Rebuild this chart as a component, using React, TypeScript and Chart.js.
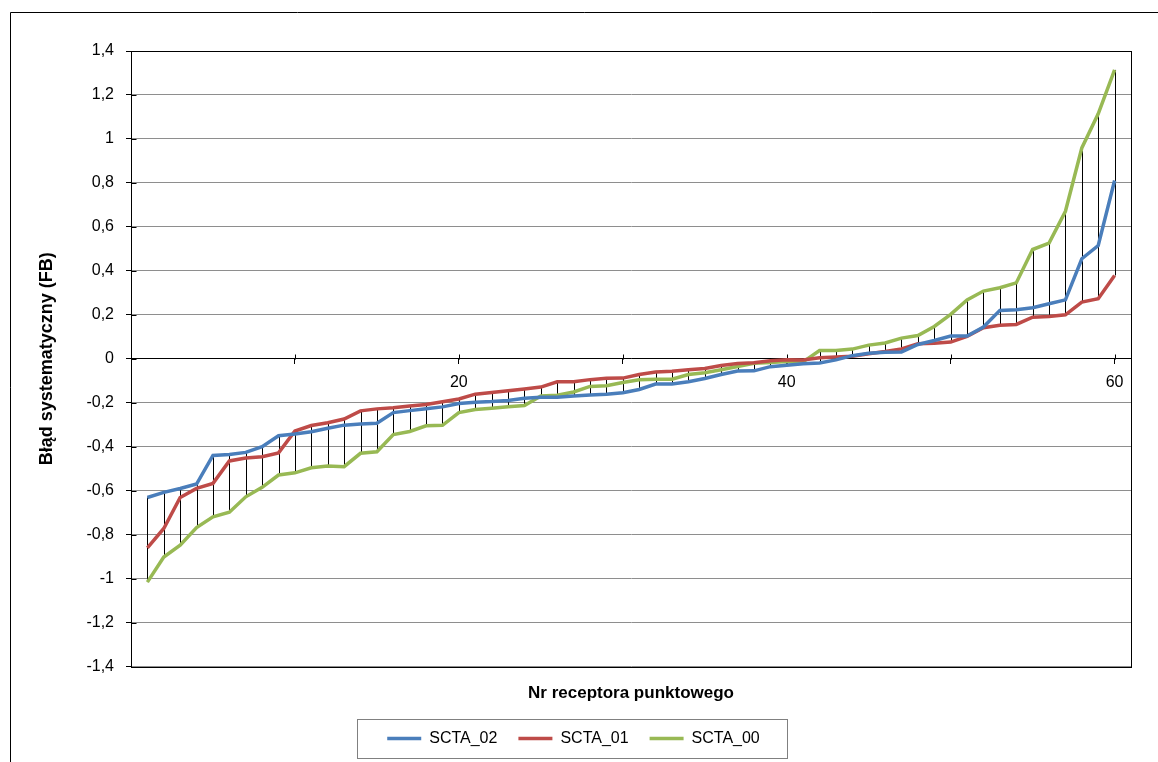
import { useEffect, useRef } from 'react';
import { Chart, registerables } from 'chart.js';

Chart.register(...registerables);

// Receptor numbers (x) and the systematic error (FB) of each model run
const receptors = [
  1, 2, 3, 4, 5, 6, 7, 8, 9, 10, 11, 12, 13, 14, 15, 16, 17, 18, 19, 20,
  21, 22, 23, 24, 25, 26, 27, 28, 29, 30, 31, 32, 33, 34, 35, 36, 37, 38, 39, 40,
  41, 42, 43, 44, 45, 46, 47, 48, 49, 50, 51, 52, 53, 54, 55, 56, 57, 58, 59, 60,
];

const scta02 = [
  -0.631, -0.608, -0.59, -0.57, -0.44, -0.436, -0.426, -0.4, -0.35, -0.342,
  -0.332, -0.316, -0.302, -0.297, -0.293, -0.245, -0.236, -0.227, -0.219, -0.204,
  -0.198, -0.195, -0.19, -0.18, -0.175, -0.175, -0.17, -0.165, -0.162, -0.155,
  -0.14, -0.115, -0.115, -0.105, -0.09, -0.072, -0.056, -0.055, -0.036, -0.03,
  -0.023, -0.019, -0.005, 0.014, 0.025, 0.03, 0.031, 0.065, 0.083, 0.103,
  0.103, 0.144, 0.22, 0.223, 0.232, 0.25, 0.268, 0.455, 0.515, 0.811,
];

const scta01 = [
  -0.86, -0.772, -0.631, -0.59, -0.567, -0.465, -0.452, -0.446, -0.428, -0.329,
  -0.304, -0.291, -0.274, -0.237, -0.228, -0.223, -0.215, -0.208, -0.196, -0.183,
  -0.161, -0.154, -0.146, -0.138, -0.129, -0.105, -0.105, -0.095, -0.089, -0.088,
  -0.072, -0.06, -0.057, -0.05, -0.044, -0.031, -0.022, -0.018, -0.009, -0.005,
  -0.006, 0.005, 0.008, 0.011, 0.023, 0.033, 0.045, 0.068, 0.071, 0.076,
  0.102, 0.141, 0.152, 0.156, 0.189, 0.192, 0.2, 0.258, 0.273, 0.379,
];

const scta00 = [
  -1.016, -0.902, -0.848, -0.768, -0.719, -0.698, -0.628, -0.585, -0.529, -0.519,
  -0.496, -0.488, -0.491, -0.43, -0.423, -0.345, -0.331, -0.305, -0.303, -0.245,
  -0.231, -0.225, -0.218, -0.213, -0.169, -0.166, -0.151, -0.126, -0.123, -0.108,
  -0.096, -0.093, -0.093, -0.072, -0.064, -0.05, -0.035, -0.021, -0.017, -0.012,
  -0.014, 0.037, 0.037, 0.044, 0.062, 0.072, 0.094, 0.106, 0.147, 0.202,
  0.268, 0.308, 0.323, 0.345, 0.497, 0.526, 0.671, 0.959, 1.114, 1.314,
];

const seriesNames = ['SCTA_02', 'SCTA_01', 'SCTA_00'];
const seriesValues = [scta02, scta01, scta00];
const seriesColors = ['#4A7EBB', '#BE4B48', '#98B954'];

const yTicks = [-1.4, -1.2, -1, -0.8, -0.6, -0.4, -0.2, 0, 0.2, 0.4, 0.6, 0.8, 1, 1.2, 1.4];
const xTicks = [0, 10, 20, 30, 40, 50, 60];
const xLabelled = [20, 40, 60];

const yTitle = 'Błąd systematyczny (FB)';
const xTitle = 'Nr receptora punktowego';

const FONT = '"Liberation Sans", Arial, sans-serif';

const formatComma = (v: number) => String(Math.round(v * 10) / 10).replace('.', ',');

// Frame, plot border, high-low lines, crossing tick stubs and legend box
const decorations = {
  id: 'decorations',
  beforeDraw(chart: any) {
    const { ctx, width, height } = chart;
    ctx.save();
    ctx.fillStyle = '#ffffff';
    ctx.fillRect(0, 0, width, height);
    ctx.strokeStyle = '#000000';
    ctx.lineWidth = 1;
    ctx.beginPath();
    ctx.moveTo(10.5, height);
    ctx.lineTo(10.5, 12.5);
    ctx.lineTo(width, 12.5);
    ctx.stroke();
    ctx.restore();
  },
  beforeDatasetsDraw(chart: any) {
    const { ctx, chartArea } = chart;
    const xs = chart.scales.x;
    const ys = chart.scales.y;
    ctx.save();
    // high-low lines between the series at every receptor
    ctx.strokeStyle = '#000000';
    ctx.lineWidth = 1;
    receptors.forEach((r, i) => {
      const vals = seriesValues.map((s) => s[i]);
      const px = Math.round(xs.getPixelForValue(r)) + 0.5;
      ctx.beginPath();
      ctx.moveTo(px, ys.getPixelForValue(Math.max(...vals)));
      ctx.lineTo(px, ys.getPixelForValue(Math.min(...vals)));
      ctx.stroke();
    });
    // plot area border
    const l = Math.round(chartArea.left) + 0.5;
    const t = Math.round(chartArea.top) + 0.5;
    const r = Math.round(chartArea.right) + 0.5;
    const b = Math.round(chartArea.bottom) + 0.5;
    ctx.strokeRect(l, t, r - l, b - t);
    // inner halves of crossing tick marks
    const y0 = Math.round(ys.getPixelForValue(0)) + 0.5;
    xTicks.forEach((v) => {
      const px = Math.round(xs.getPixelForValue(v)) + 0.5;
      ctx.beginPath();
      ctx.moveTo(px, y0 - 5);
      ctx.lineTo(px, y0);
      ctx.stroke();
    });
    yTicks.forEach((v) => {
      const py = Math.round(ys.getPixelForValue(v)) + 0.5;
      ctx.beginPath();
      ctx.moveTo(l, py);
      ctx.lineTo(l + 5, py);
      ctx.stroke();
    });
    ctx.restore();
  },
  afterDraw(chart: any) {
    const legend = chart.legend;
    if (!legend || !legend.legendHitBoxes || !legend.legendHitBoxes.length) return;
    const boxes = legend.legendHitBoxes;
    const first = boxes[0];
    const last = boxes[boxes.length - 1];
    const left = Math.round(first.left - 30) + 0.5;
    const right = Math.round(last.left + last.width + 27) + 0.5;
    const top = Math.round(first.top - 12) + 0.5;
    const bottom = Math.round(first.top + first.height + 11) + 0.5;
    const { ctx } = chart;
    ctx.save();
    ctx.strokeStyle = '#808080';
    ctx.lineWidth = 1;
    ctx.strokeRect(left, top, right - left, bottom - top);
    ctx.restore();
  },
};

export default function App() {
  const canvasRef = useRef<HTMLCanvasElement | null>(null);

  useEffect(() => {
    if (!canvasRef.current) return;
    Chart.defaults.font.family = FONT;
    const chart = new Chart(canvasRef.current, {
      type: 'line',
      data: {
        datasets: seriesNames.map((name, k) => ({
          label: name,
          data: receptors.map((r, i) => ({ x: r, y: seriesValues[k][i] })),
          borderColor: seriesColors[k],
          backgroundColor: seriesColors[k],
          borderWidth: 3.5,
          pointRadius: 0,
          pointHoverRadius: 0,
          tension: 0,
          fill: false,
          xAxisID: 'x',
          yAxisID: 'y',
        })),
      },
      options: {
        animation: false,
        responsive: true,
        maintainAspectRatio: false,
        events: [],
        layout: { padding: { left: 16, right: 27, top: 51, bottom: 5.5 } },
        scales: {
          x: {
            type: 'linear',
            position: { y: 0 } as any,
            min: 0,
            max: 61,
            afterBuildTicks: (s: any) => {
              s.ticks = xTicks.map((v) => ({ value: v }));
            },
            ticks: {
              autoSkip: false,
              maxRotation: 0,
              padding: 9,
              color: '#000000',
              font: { size: 16 },
              callback: (v: any) => (xLabelled.includes(Number(v)) ? String(v) : ''),
            },
            grid: { drawOnChartArea: false, tickLength: 5, tickColor: '#000000' },
            border: { color: '#000000', width: 1 },
          },
          x2: {
            type: 'linear',
            position: 'bottom',
            grid: { display: false },
            border: { display: false },
            ticks: { display: false },
            title: {
              display: true,
              text: xTitle,
              color: '#000000',
              font: { size: 17, weight: 'bold' },
              padding: { top: 8.3, bottom: 6.3 },
            },
          },
          y: {
            type: 'linear',
            position: 'left',
            min: -1.4,
            max: 1.4,
            afterBuildTicks: (s: any) => {
              s.ticks = yTicks.map((v) => ({ value: v }));
            },
            afterFit: (s: any) => {
              s.width = 115;
            },
            ticks: {
              padding: 12,
              color: '#000000',
              font: { size: 16 },
              callback: (v: any) => formatComma(Number(v)),
            },
            grid: { color: '#8e8e8e', lineWidth: 1, tickLength: 5, tickColor: '#000000' },
            border: { color: '#000000', width: 1 },
            title: {
              display: true,
              text: yTitle,
              color: '#000000',
              font: { size: 18, weight: 'bold' },
              padding: { top: 20, bottom: 0 },
            },
          },
        },
        plugins: {
          legend: {
            display: true,
            position: 'bottom',
            labels: {
              usePointStyle: true,
              pointStyle: 'line',
              pointStyleWidth: 34,
              padding: 21,
              color: '#000000',
              font: { size: 16 },
            },
          },
          title: { display: false },
          tooltip: { enabled: false },
        },
      },
      plugins: [decorations],
    } as any);
    return () => chart.destroy();
  }, []);

  return (
    <div
      style={{
        position: 'fixed',
        left: 0,
        top: 0,
        width: 1158,
        height: 762,
        background: '#ffffff',
      }}
    >
      <canvas ref={canvasRef} />
    </div>
  );
}
